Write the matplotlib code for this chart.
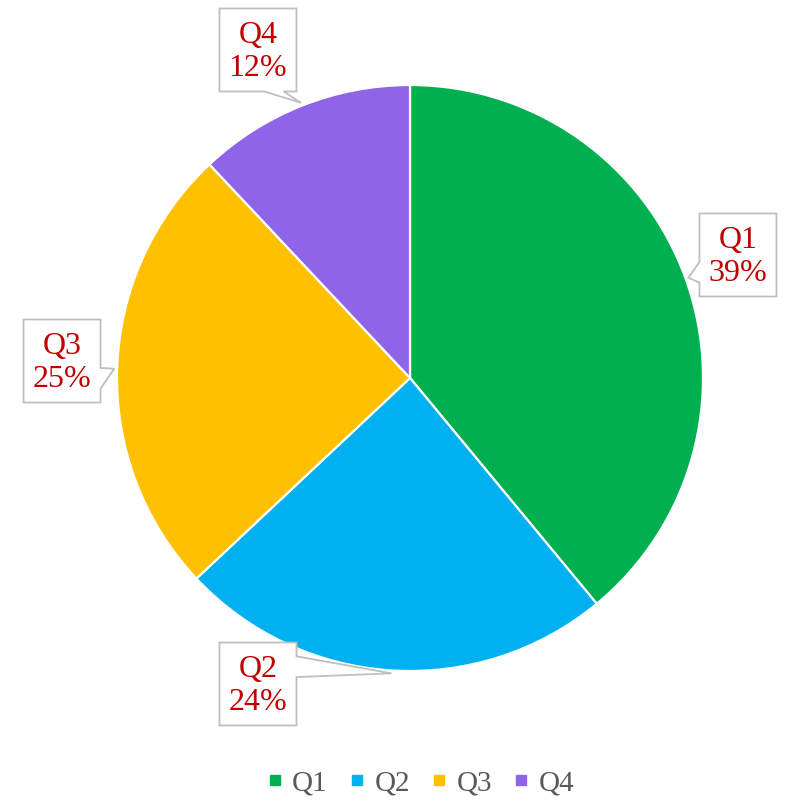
import numpy as np
import matplotlib.pyplot as plt
from matplotlib.patches import Polygon
from matplotlib.lines import Line2D

plt.rcParams['font.family'] = ['Liberation Serif', 'DejaVu Serif']

# data
quarters = ['Q1', 'Q2', 'Q3', 'Q4']
shares = [39, 24, 25, 12]
colors = ['#00B050', '#00B0F0', '#FFC000', '#8E65E8']

# label box centres (pixel coords, y from top)
box_centres = [(738, 255), (258, 684), (62, 361), (258, 50)]
box_w, box_h = 77, 83

W, H = 787, 801
fig = plt.figure(figsize=(W / 100, H / 100), dpi=100)
ax = fig.add_axes([0, 0, 1, 1])
ax.set_xlim(0, W)
ax.set_ylim(0, H)
ax.axis('off')

cx, cy, R = 410, H - 378, 293
ax.pie(shares, colors=colors, startangle=90, counterclock=False,
       center=(cx, cy), radius=R,
       wedgeprops=dict(edgecolor='white', linewidth=1.6))
ax.set_xlim(0, W)
ax.set_ylim(0, H)
ax.set_aspect('equal')

total = sum(shares)
cum = np.cumsum([0] + shares)
for i, q in enumerate(quarters):
    mid = (cum[i] + cum[i + 1]) / 2 / total * 2 * np.pi  # clockwise from top
    tx = cx + 1.01 * R * np.sin(mid)
    ty = cy + 1.01 * R * np.cos(mid)
    bx, by = box_centres[i]
    by = H - by
    l, r, b, t = bx - box_w / 2, bx + box_w / 2, by - box_h / 2, by + box_h / 2
    dx, dy = tx - bx, ty - by
    # pick the side the pointer leaves from
    if abs(dx) / box_w > abs(dy) / box_h:
        x0 = r if dx > 0 else l
        f = (2 / 12, 5 / 12) if ty > by else (7 / 12, 10 / 12)
        y1, y2 = t - f[0] * box_h, t - f[1] * box_h
        if x0 == r:
            pts = [(l, t), (r, t), (r, y1), (tx, ty), (r, y2), (r, b), (l, b)]
        else:
            pts = [(l, t), (r, t), (r, b), (l, b), (l, y2), (tx, ty), (l, y1)]
    else:
        f = (2 / 12, 5 / 12) if tx < bx else (7 / 12, 10 / 12)
        x1, x2 = l + f[0] * box_w, l + f[1] * box_w
        if dy < 0:
            pts = [(l, t), (r, t), (r, b), (x2, b), (tx, ty), (x1, b), (l, b)]
        else:
            pts = [(l, t), (x1, t), (tx, ty), (x2, t), (r, t), (r, b), (l, b)]
    ax.add_patch(Polygon(pts, closed=True, facecolor='white',
                         edgecolor='#BFBFBF', linewidth=1.3, zorder=5))
    ax.text(bx, by - 2, f'{q}\n{shares[i]}%', ha='center', va='center',
            fontsize=23, color='#C00000', linespacing=1.18, zorder=6)

handles = [Line2D([], [], marker='s', linestyle='', markersize=7.5,
                  color=c) for c in colors]
fig.legend(handles, quarters, loc='lower center', ncol=4, frameon=False,
           bbox_to_anchor=(0.531, -0.027), fontsize=21, labelcolor='#595959',
           handletextpad=0.15, columnspacing=0.55, handlelength=0.9)

fig.savefig('out.png', dpi=100)
